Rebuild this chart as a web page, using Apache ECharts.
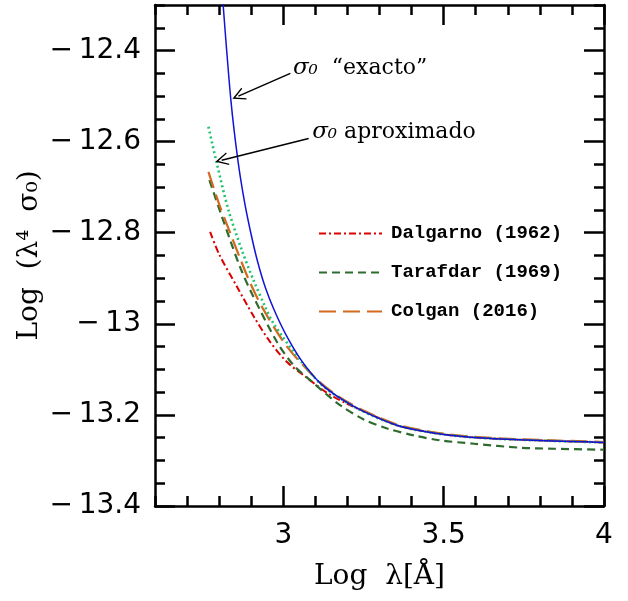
<!DOCTYPE html>
<html><head><meta charset="utf-8">
<script src="https://cdn.jsdelivr.net/npm/echarts@6/dist/echarts.min.js"></script>
<style>html,body{margin:0;padding:0;background:#fff}#c{width:628px;height:601px}</style>
</head><body><div id="c"></div>
<script>
// ---- data ----
const exactX = [2.8027, 2.8125, 2.8366, 2.8584, 2.8781, 2.8969, 2.9188, 2.9438, 2.9719, 3.0094, 3.0563, 3.1156, 3.1781, 3.25, 3.3563, 3.4594, 3.5844, 3.7406, 3.8969, 4.0];
const exactY = [-12.199, -12.300, -12.5088, -12.6407, -12.7286, -12.7945, -12.8604, -12.9198, -12.9703, -13.0253, -13.0802, -13.1308, -13.1637, -13.1923, -13.2231, -13.2385, -13.2488, -13.2545, -13.2582, -13.2604];

const approxX = [2.7666, 2.7928, 2.8291, 2.8709, 2.9072, 2.9438, 2.9697, 3.0531, 3.1156, 3.1781, 3.25, 3.3563, 3.4594, 3.5844, 3.7406, 3.8969, 4.0];
const approxY = [-12.5675, -12.6479, -12.7505, -12.8385, -12.9044, -12.9631, -12.9996, -13.0802, -13.1312, -13.1641, -13.1927, -13.2234, -13.2388, -13.2490, -13.2547, -13.2584, -13.2606];

const colganX = [2.7666, 2.80, 2.8344, 2.8647, 2.8969, 2.9359, 3.0009, 3.0478, 3.1156, 3.1781, 3.25, 3.3563, 3.4594, 3.5844, 3.7406, 3.8969, 4.0];
const colganY = [-12.6664, -12.7374, -12.8004, -12.8554, -12.9103, -12.9659, -13.0400, -13.0802, -13.1290, -13.1620, -13.1905, -13.2215, -13.2370, -13.2475, -13.2535, -13.2572, -13.2595];

const tarafdarX = [2.7697, 2.8053, 2.8353, 2.8672, 2.9031, 2.9803, 3.0322, 3.0844, 3.1313, 3.1781, 3.2509, 3.3241, 3.4072, 3.4906, 3.5947, 3.7406, 3.8447, 4.0];
const tarafdarY = [-12.6846, -12.7578, -12.818, -12.8787, -12.9352, -13.040, -13.0912, -13.1242, -13.1527, -13.1791, -13.2099, -13.2297, -13.2451, -13.2560, -13.2633, -13.2721, -13.2743, -13.2765];

const dalgarnoX = [2.7719, 2.80, 2.8531, 2.9094, 2.9594, 3.0116, 3.0741, 3.1366, 3.1991, 3.2509, 3.3563, 3.4594, 3.5844, 3.7406, 3.8969, 4.0];
const dalgarnoY = [-12.7982, -12.8473, -12.9154, -12.9857, -13.040, -13.084, -13.1187, -13.1516, -13.1758, -13.1919, -13.2231, -13.2385, -13.2488, -13.2545, -13.2582, -13.2604];

const xMajorTicks = [3, 3.5, 4];
const yMajorTicks = [-13.4, -13.2, -13, -12.8, -12.6, -12.4];
const seriesNames = ['Dalgarno (1962)', 'Tarafdar (1969)', 'Colgan (2016)', 'aproximado', 'exacto'];
const xTitle = 'Log  λ[Å]';
const yTitle = 'Log  (λ⁴  σ₀)';
const noteExactText = '“exacto”';
const noteApproxText = 'aproximado';
// annotation anchors [x, y] in data units
const noteExactPos = [3.030, -12.4385];
const noteApproxPos = [3.090, -12.579];
const arrowExact = [[3.022, -12.450], [2.860, -12.500]];
const arrowApprox = [[3.079, -12.593], [2.808, -12.6407]];

// ---- helpers ----
const XMIN = 2.6, XMAX = 4, YMIN = -13.4, YMAX = -12.3;
function pairs(xs, ys) { return xs.map((x, i) => [x, ys[i]]); }
function fmtTick(v) {
  const s = String(Math.abs(Math.round(v * 100) / 100));
  return (v < 0 ? '\u2212\u2009' : '') + s;
}
const tickLine = { color: '#000', width: 2.5 };

function minorAxis(pos, isX) {
  return {
    type: 'value', position: pos,
    min: isX ? XMIN : YMIN, max: isX ? XMAX : YMAX, interval: isX ? 0.1 : 0.05,
    axisLine: { show: true, onZero: false, lineStyle: { color: '#000', width: 2.5 } },
    axisTick: { show: true, inside: true, length: 10, lineStyle: tickLine },
    axisLabel: { show: false }, splitLine: { show: false }
  };
}
function majorAxis(pos, isX, labels) {
  const vals = isX ? xMajorTicks : yMajorTicks;
  const a = {
    type: 'value', position: pos,
    min: isX ? XMIN : YMIN, max: isX ? XMAX : YMAX,
    axisLine: { show: false, onZero: false },
    axisTick: { show: true, inside: true, length: 20, customValues: vals, lineStyle: tickLine },
    axisLabel: { show: labels, customValues: vals, formatter: fmtTick, fontSize: 28,
      fontFamily: 'DejaVu Sans', color: '#000', margin: isX ? 16 : 14 },
    splitLine: { show: false }
  };
  if (labels) {
    a.name = isX ? xTitle : yTitle;
    a.nameLocation = 'middle';
    a.nameGap = isX ? 57 : 111;
    a.nameMoveOverlap = false;
    a.nameTextStyle = { fontFamily: 'DejaVu Serif', fontSize: 28, color: '#000' };
  }
  return a;
}

const arrowPath = 'path://M5,0 L10,14 L9,14.5 L5,3.5 L1,14.5 L0,14 Z';
function lineSeries(name, xs, ys, color, width, dash) {
  return {
    name, type: 'line', xAxisIndex: 0, yAxisIndex: 0, data: pairs(xs, ys),
    symbol: 'none', smooth: 0.3, clip: true,
    lineStyle: { color, width, type: dash },
    itemStyle: { color }, animation: false
  };
}

const exactSeries = lineSeries(seriesNames[4], exactX, exactY, '#1212d8', 1.5, 'solid');
exactSeries.markLine = {
  silent: true, animation: false, symbol: ['none', arrowPath], symbolSize: 13,
  lineStyle: { color: '#000', width: 1.5, type: 'solid' }, label: { show: false },
  emphasis: { disabled: true },
  data: [
    [{ coord: arrowExact[0] }, { coord: arrowExact[1] }],
    [{ coord: arrowApprox[0] }, { coord: arrowApprox[1] }]
  ]
};
const richNote = {
  g: { fontFamily: 'DejaVu Serif', fontStyle: 'italic', fontSize: 23, color: '#000' },
  t: { fontFamily: 'DejaVu Serif', fontSize: 22, color: '#000' }
};
exactSeries.markPoint = {
  silent: true, animation: false, symbol: 'circle', symbolSize: 0,
  label: { show: true, position: 'right', distance: 0, rich: richNote },
  data: [
    { coord: noteExactPos, label: { formatter: '{g|σ₀}{t|  ' + noteExactText + '}' } },
    { coord: noteApproxPos, label: { formatter: '{g|σ₀}{t| ' + noteApproxText + '}' } }
  ]
};

const option = {
  animation: false,
  backgroundColor: '#fff',
  grid: { left: 155, right: 24, top: 5, bottom: 95, containLabel: false, outerBoundsMode: 'none' },
  xAxis: [minorAxis('bottom', true), majorAxis('bottom', true, true), minorAxis('top', true), majorAxis('top', true, false)],
  yAxis: [minorAxis('left', false), majorAxis('left', false, true), minorAxis('right', false), majorAxis('right', false, false)],
  legend: {
    data: seriesNames.slice(0, 3), orient: 'vertical', left: 313, top: 219,
    itemWidth: 63, itemHeight: 14, itemGap: 20, selectedMode: false,
    itemStyle: { opacity: 0, color: 'transparent', borderWidth: 0 },
    textStyle: { fontFamily: 'Liberation Mono', fontSize: 19, fontWeight: 'bold', color: '#000', padding: [0, 0, 0, 4] }
  },
  series: [
    lineSeries(seriesNames[0], dalgarnoX, dalgarnoY, '#dd0000', 2, [7, 3, 2, 3]),
    lineSeries(seriesNames[1], tarafdarX, tarafdarY, '#2e6b2e', 2.2, [8, 5]),
    lineSeries(seriesNames[2], colganX, colganY, '#d2691e', 2.2, [17, 7]),
    lineSeries(seriesNames[3], approxX, approxY, '#1ec46e', 2.6, [2, 3]),
    exactSeries
  ]
};
const chart = echarts.init(document.getElementById('c'), null, { renderer: 'canvas' });
chart.setOption(option);
</script>
</body></html>
